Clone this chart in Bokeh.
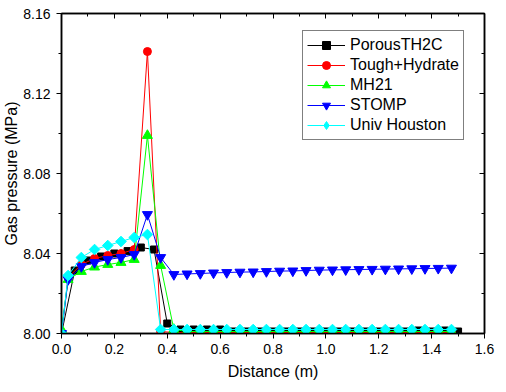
from bokeh.plotting import figure
from bokeh.models import (LinearAxis, SingleIntervalTicker, PrintfTickFormatter,
                          Legend, LegendItem, Range1d)
from bokeh.embed import file_html
from bokeh.resources import INLINE

# ---- data ----
x_porous = [0.00, 0.05, 0.10, 0.15, 0.20, 0.25, 0.30, 0.35, 0.40, 0.45,
            0.50, 0.55, 0.60, 0.65, 0.70, 0.75, 0.80, 0.85, 0.90, 0.95,
            1.00, 1.05, 1.10, 1.15, 1.20, 1.25, 1.30, 1.35, 1.40, 1.45, 1.50]
y_porous = [8.0000, 8.0315, 8.0365, 8.0385, 8.0400, 8.0412, 8.0430, 8.0420, 8.0050, 8.0020,
            8.0020, 8.0020, 8.0020, 8.0010, 8.0010, 8.0010, 8.0010, 8.0010, 8.0010, 8.0010,
            8.0010, 8.0010, 8.0010, 8.0010, 8.0010, 8.0010, 8.0010, 8.0015, 8.0010, 8.0015, 8.0010]

x_other = [0.000, 0.025, 0.075, 0.125, 0.175, 0.225, 0.275, 0.325, 0.375, 0.425,
           0.475, 0.525, 0.575, 0.625, 0.675, 0.725, 0.775, 0.825, 0.875, 0.925,
           0.975, 1.025, 1.075, 1.125, 1.175, 1.225, 1.275, 1.325, 1.375, 1.425, 1.475]
y_tough = [8.0000, 8.0280, 8.0345, 8.0375, 8.0390, 8.0400, 8.0420, 8.1410, 8.0010, 8.0005,
           8.0005, 8.0005, 8.0005, 8.0005, 8.0005, 8.0005, 8.0005, 8.0005, 8.0005, 8.0005,
           8.0005, 8.0005, 8.0005, 8.0005, 8.0005, 8.0005, 8.0005, 8.0005, 8.0005, 8.0005, 8.0005]
y_mh21 = [8.0020, 8.0270, 8.0310, 8.0332, 8.0345, 8.0355, 8.0370, 8.0990, 8.0340, 8.0020,
          8.0010, 8.0010, 8.0010, 8.0010, 8.0010, 8.0010, 8.0010, 8.0010, 8.0010, 8.0010,
          8.0010, 8.0010, 8.0010, 8.0010, 8.0010, 8.0010, 8.0010, 8.0010, 8.0010, 8.0010, 8.0010]
y_stomp = [8.0000, 8.0270, 8.0335, 8.0355, 8.0370, 8.0380, 8.0395, 8.0595, 8.0380, 8.0295,
           8.0298, 8.0300, 8.0303, 8.0305, 8.0307, 8.0308, 8.0310, 8.0312, 8.0313, 8.0315,
           8.0317, 8.0318, 8.0319, 8.0320, 8.0321, 8.0322, 8.0323, 8.0324, 8.0325, 8.0326, 8.0327]
y_houston = [8.0000, 8.0290, 8.0380, 8.0420, 8.0440, 8.0460, 8.0480, 8.0495, 8.0020, 8.0020,
             8.0020, 8.0020, 8.0020, 8.0020, 8.0020, 8.0020, 8.0020, 8.0020, 8.0020, 8.0020,
             8.0020, 8.0020, 8.0020, 8.0020, 8.0020, 8.0020, 8.0020, 8.0020, 8.0020, 8.0020, 8.0020]

series_names = ["PorousTH2C", "Tough+Hydrate", "MH21", "STOMP", "Univ Houston"]
x_ticks_interval = 0.2
y_ticks_interval = 0.04

FONT = "Liberation Sans"

p = figure(width=506, height=392, x_range=Range1d(0, 1.6), y_range=Range1d(8.0, 8.16),
           output_backend="svg", toolbar_location=None,
           min_border_left=54, min_border_right=22, min_border_top=13, min_border_bottom=59)
p.xgrid.visible = False
p.ygrid.visible = False
p.outline_line_color = "black"
p.outline_line_width = 1.5
p.background_fill_color = "white"
p.border_fill_color = "white"

# bottom axis
xa = p.xaxis[0]
xa.ticker = SingleIntervalTicker(interval=x_ticks_interval, num_minor_ticks=2)
xa.formatter = PrintfTickFormatter(format="%.1f")
xa.axis_label = "Distance (m)"
# left axis
ya = p.yaxis[0]
ya.ticker = SingleIntervalTicker(interval=y_ticks_interval, num_minor_ticks=2)
ya.formatter = PrintfTickFormatter(format="%.2f")
ya.axis_label = "Gas pressure (MPa)"

for ax in (xa, ya):
    ax.axis_line_width = 1.5
    ax.axis_line_color = "black"
    ax.major_tick_out = 5
    ax.major_tick_in = 0
    ax.minor_tick_out = 3
    ax.minor_tick_in = 0
    ax.major_tick_line_color = "black"
    ax.minor_tick_line_color = "black"
    ax.major_label_text_font = FONT
    ax.major_label_text_font_size = "14px"
    ax.major_label_text_color = "black"
    ax.axis_label_text_font = FONT
    ax.axis_label_text_font_size = "16px"
    ax.axis_label_text_font_style = "normal"
    ax.axis_label_text_color = "black"
xa.major_label_standoff = 5
xa.axis_label_standoff = 6
ya.major_label_standoff = 6
ya.axis_label_standoff = 0

# mirrored axes (top / right), ticks inward, no labels
top = LinearAxis(ticker=SingleIntervalTicker(interval=x_ticks_interval, num_minor_ticks=2))
right = LinearAxis(ticker=SingleIntervalTicker(interval=y_ticks_interval, num_minor_ticks=2))
for ax in (top, right):
    ax.axis_line_width = 1.5
    ax.axis_line_color = "black"
    ax.major_tick_in = 5
    ax.major_tick_out = 0
    ax.minor_tick_in = 3
    ax.minor_tick_out = 0
    ax.major_label_text_font_size = "0px"
    ax.major_label_standoff = 0
    ax.major_label_text_alpha = 0
p.add_layout(top, "above")
p.add_layout(right, "right")

series = [
    (x_porous, y_porous, "#000000", "square", 7, 0),
    (x_other, y_tough, "#FF0000", "circle", 8, 0),
    (x_other, y_mh21, "#00FF00", "triangle", 10, 0),
    (x_other, y_stomp, "#0000FF", "inverted_triangle", 10, 0),
    (x_other, y_houston, "#00FFFF", "square", 7.5, 0.785398),
]

nan = float("nan")
items = []
for (xs, ys, col, mk, sz, ang), name in zip(series, series_names):
    lr = p.line(xs, ys, line_color=col, line_width=1)
    sr = p.scatter(xs, ys, marker=mk, size=sz, angle=ang, fill_color=col, line_color=col)
    if ang != 0:
        # legend sample drawn as a diamond (legend markers are never rotated)
        sr_leg = p.scatter(x=[nan], y=[nan], marker="diamond", size=12,
                           fill_color=col, line_color=col)
        items.append(LegendItem(label=name, renderers=[lr, sr_leg]))
    else:
        items.append(LegendItem(label=name, renderers=[lr, sr]))

legend = Legend(items=items, location=(241, 193))
legend.label_text_font = FONT
legend.label_text_font_size = "16px"
legend.label_text_color = "black"
legend.glyph_width = 38
legend.glyph_height = 20
legend.label_height = 20
legend.label_standoff = 5
legend.spacing = 0
legend.padding = 4
legend.margin = 0
legend.border_line_color = "black"
legend.border_line_width = 1
legend.background_fill_color = "white"
legend.background_fill_alpha = 1
p.add_layout(legend)

open("out.html", "w").write(file_html(p, INLINE))
